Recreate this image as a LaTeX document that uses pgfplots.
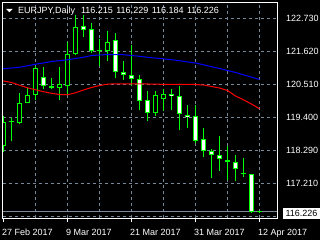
\documentclass[border=0pt]{standalone}
\usepackage{fontspec}
\setmainfont{Liberation Sans}
\usepackage{pgfplots}
\usepackage{pgfplotstable}
\pgfplotsset{compat=1.18}
\definecolor{mtgreen}{RGB}{0,255,0}
\definecolor{mtgrid}{RGB}{119,136,153}
\definecolor{mtblue}{RGB}{0,0,255}
\definecolor{mtred}{RGB}{255,0,0}

% bullish candles (close >= open)
\pgfplotstableread{
x O H L C
0 118.425 119.434 118.223 119.265
1 119.249 119.383 118.593 119.270
2 119.208 120.217 119.165 119.894
3 119.894 120.399 119.881 120.164
4 120.164 121.149 119.972 121.072
7 120.399 121.115 120.005 120.510
8 120.466 121.923 120.140 121.543
9 121.543 122.864 121.486 122.444
12 121.637 122.047 121.149 121.670
13 121.633 122.293 121.317 121.956
19 119.551 120.308 119.467 120.164
20 120.012 120.342 119.602 120.200
30 117.483 118.021 117.392 117.490
32 116.215 116.229 116.184 116.226
}\bull

% bearish candles (close < open)
\pgfplotstableread{
x O H L C
5 120.779 121.115 120.365 120.476
6 120.466 120.712 120.342 120.399
10 122.484 122.864 122.108 122.350
11 122.384 122.595 121.586 121.637
14 121.990 122.259 120.712 120.924
15 120.924 121.317 120.678 120.846
16 120.836 121.855 120.443 120.702
17 120.702 120.846 119.652 119.955
18 119.995 120.291 119.276 119.551
21 120.197 120.375 119.659 120.116
22 120.130 120.443 118.963 119.501
23 119.491 119.837 119.054 119.410
24 119.434 119.837 118.526 118.603
25 118.684 119.030 118.065 118.267
26 118.280 118.340 117.365 118.145
27 118.155 118.761 117.617 117.997
28 117.977 118.425 117.281 117.910
29 117.910 118.122 117.257 117.674
31 117.483 117.506 116.171 116.205
}\bear

\pgfplotstableread{
x blue red
-1 121.018 120.678
0 121.041 120.628
1 121.065 120.577
2 121.089 120.486
3 121.139 120.399
4 121.193 120.332
5 121.233 120.268
6 121.284 120.214
7 121.311 120.174
8 121.341 120.164
9 121.385 120.231
10 121.428 120.325
11 121.485 120.409
12 121.502 120.476
13 121.519 120.520
14 121.519 120.534
15 121.512 120.534
16 121.485 120.534
17 121.459 120.534
18 121.425 120.527
19 121.398 120.520
20 121.374 120.517
21 121.344 120.510
22 121.311 120.510
23 121.267 120.510
24 121.233 120.510
25 121.173 120.493
26 121.109 120.443
27 121.048 120.392
28 120.981 120.308
29 120.914 120.123
30 120.836 119.995
31 120.759 119.853
32 120.678 119.692
}\mas

\begin{document}
\begin{tikzpicture}
\useasboundingbox (0,0) rectangle (320bp,240bp);
\fill[black] (0,0) rectangle (320bp,240bp);
\begin{axis}[
  at={(2.5bp,21.5bp)}, anchor=south west,
  scale only axis, width=275bp, height=216bp,
  xmin=-0.125, xmax=34.25, ymin=116.0028, ymax=123.268,
  axis line style={white, line width=1bp},
  xtick={0,8,16,24,32},
  xticklabels={27 Feb 2017, 9 Mar 2017, 21 Mar 2017, 31 Mar 2017, 12 Apr 2017},
  minor xtick={4,8,...,32},
  xminorgrids=true,
  minor tick length=0pt,
  ytick={122.73,121.62,120.51,119.40,118.29,117.18,116.07},
  yticklabels={122.730,121.620,120.510,119.400,118.290,117.210,},
  ymajorgrids=true,
  major grid style={mtgrid, line width=1bp, dash pattern=on 3bp off 3bp},
  minor grid style={mtgrid, line width=1bp, dash pattern=on 3bp off 3bp},
  tick align=outside,
  major tick length=4bp,
  xtick pos=left, ytick pos=right,
  yticklabel pos=right,
  xtick style={white, line width=1bp},
  ytick style={draw=none},
  tick label style={font=\fontsize{9bp}{10bp}\selectfont, text=white},
  xticklabel style={anchor=base west, inner sep=0pt, xshift=-1.5bp, yshift=-13.2bp},
  yticklabel style={anchor=west, inner sep=0pt, xshift=4.5bp},
  extra y ticks={116.226},
  extra y tick labels={116.226},
  extra y tick style={grid=major, major grid style={solid, mtgrid, line width=1bp},
    yticklabel style={fill=white, text=black, inner xsep=3bp, inner ysep=2.5bp, xshift=-3.7bp, yshift=-1.5bp}},
]
% wicks
\addplot[quiver={u={0}, v={\thisrow{H}-\thisrow{L}}}, draw=mtgreen, line width=1bp, mark=none, forget plot, -]
  table[x=x, y=L] \bull;
\addplot[quiver={u={0}, v={\thisrow{H}-\thisrow{L}}}, draw=mtgreen, line width=1bp, mark=none, forget plot, -]
  table[x=x, y=L] \bear;
% body outlines
\addplot[quiver={u={0}, v={max(\thisrow{C}-\thisrow{O},0.034)}}, draw=mtgreen, line width=5bp, mark=none, forget plot, -]
  table[x=x, y=O] \bull;
\addplot[quiver={u={0}, v={max(\thisrow{O}-\thisrow{C},0.034)}}, draw=mtgreen, line width=5bp, mark=none, forget plot, -]
  table[x=x, y=C] \bear;
% body interiors
\addplot[quiver={u={0}, v={max(\thisrow{C}-\thisrow{O}-0.0672,0)}}, draw=black, line width=3bp, mark=none, forget plot, -]
  table[x=x, y expr={\thisrow{O}+0.0336}] \bull;
\addplot[quiver={u={0}, v={max(\thisrow{O}-\thisrow{C}-0.0672,0)}}, draw=white, line width=3bp, mark=none, forget plot, -]
  table[x=x, y expr={\thisrow{C}+0.0336}] \bear;
% moving averages
\addplot[mtblue, line width=1bp, mark=none] table[x=x, y=blue] \mas;
\addplot[mtred, line width=1bp, mark=none] table[x=x, y=red] \mas;
\end{axis}
\draw[white, line width=1bp] (2.5bp,21.5bp) rectangle (277.5bp,237.5bp);
\fill[white] (6bp,231bp) -- (12.7bp,231bp) -- (9.35bp,227.7bp) -- cycle;
\node[anchor=base west, inner sep=0pt, text=white, font=\fontsize{9bp}{10bp}\selectfont]
  at (18bp,226.7bp) {EURJPY,Daily\hspace{6bp}116.215\hspace{3.5bp}116.229\hspace{3.5bp}116.184\hspace{3.5bp}116.226};
\end{tikzpicture}
\end{document}
